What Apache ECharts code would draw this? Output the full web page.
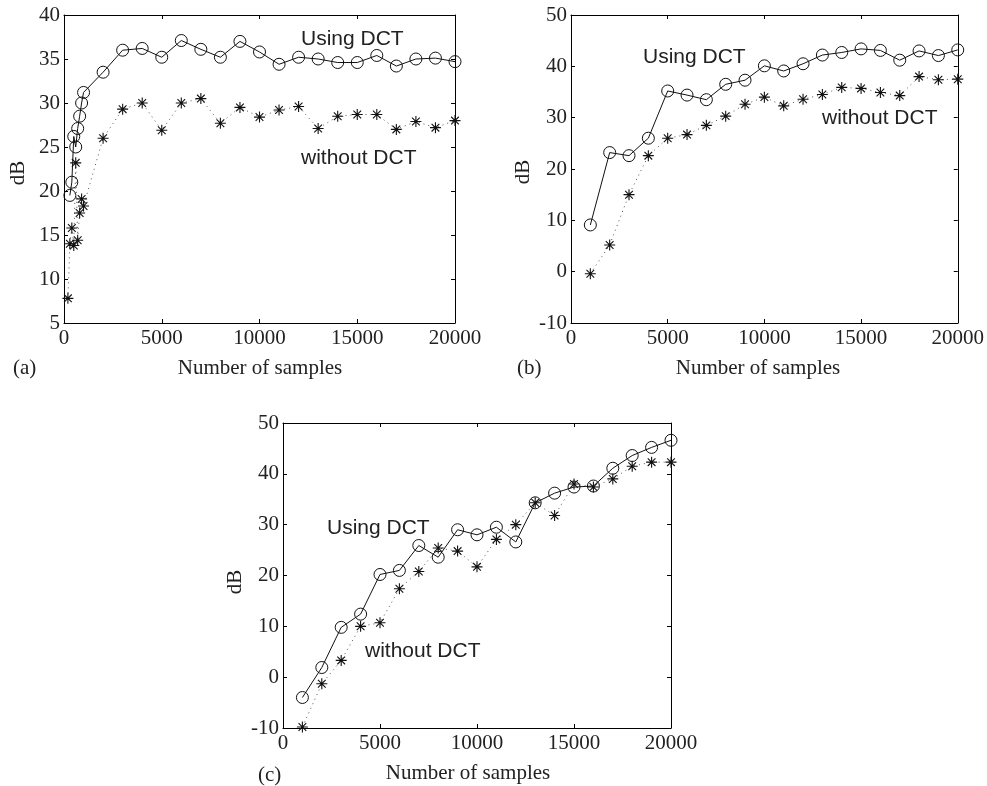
<!DOCTYPE html>
<html>
<head>
<meta charset="utf-8">
<script src="https://cdn.jsdelivr.net/npm/echarts@6/dist/echarts.min.js"></script>
<style>
html,body{margin:0;padding:0;background:#fff;}
#chart{width:987px;height:786px;}
</style>
</head>
<body>
<div id="chart"></div>
<script>
// ---- Data ----
const xTicks = [0, 5000, 10000, 15000, 20000];

// Panel (a)
const xA_dct = [300,400,500,600,700,800,900,1000,2000,3000,4000,5000,6000,7000,8000,9000,10000,11000,12000,13000,14000,15000,16000,17000,18000,19000,20000];
const yA_dct = [19.5,21.0,26.2,25.0,27.1,28.5,30.0,31.2,33.5,36.0,36.2,35.2,37.1,36.1,35.2,37.0,35.8,34.4,35.2,35.0,34.6,34.6,35.4,34.2,35.0,35.1,34.7];
const xA_raw = [200,300,400,500,600,700,800,900,1000,2000,3000,4000,5000,6000,7000,8000,9000,10000,11000,12000,13000,14000,15000,16000,17000,18000,19000,20000];
const yA_raw = [7.8,14.0,15.8,13.8,23.2,14.4,17.5,19.1,18.3,26.0,29.3,30.0,26.9,30.0,30.5,27.7,29.5,28.4,29.2,29.6,27.1,28.5,28.7,28.7,27.0,27.9,27.2,28.0];

// Panels (b) and (c)
const xBC = [1000,2000,3000,4000,5000,6000,7000,8000,9000,10000,11000,12000,13000,14000,15000,16000,17000,18000,19000,20000];
const yB_dct = [9.1,23.2,22.6,26.0,35.2,34.4,33.5,36.5,37.3,40.1,39.1,40.5,42.2,42.7,43.4,43.1,41.2,43.0,42.1,43.2];
const yB_raw = [-0.4,5.2,15.0,22.6,26.0,26.7,28.5,30.3,32.6,34.0,32.3,33.6,34.5,35.9,35.7,34.9,34.3,38.0,37.4,37.5];
const yC_dct = [-4.0,1.9,9.8,12.4,20.2,21.0,25.9,23.6,29.0,28.0,29.5,26.6,34.3,36.2,37.4,37.6,41.1,43.6,45.2,46.6];
const yC_raw = [-9.8,-1.3,3.3,10.0,10.7,17.4,20.8,25.4,24.8,21.7,27.1,30.0,34.3,31.8,38.0,37.4,39.0,41.5,42.3,42.3];

const pairs = (xs, ys) => xs.map((x, i) => [x, ys[i]]);

// ---- Styles ----
const serif = 'Liberation Serif';
const sans = 'Liberation Sans';
const starPath = 'path://M0,-10L0,10M-10,0L10,0M-7,-7L7,7M-7,7L7,-7';

const grids = [
  {left: 64, top: 15, width: 391, height: 308},
  {left: 571, top: 15, width: 391, height: 308},
  {left: 283, top: 423, width: 388, height: 305}
];
const yRanges = [
  {min: 5, max: 40, interval: 5},
  {min: -10, max: 50, interval: 10},
  {min: -10, max: 50, interval: 10}
];

const xAxes = [], yAxes = [];
grids.forEach((g, i) => {
  const common = {
    type: 'value', gridIndex: i, min: 0, max: 20000, interval: 5000,
    splitLine: {show: false},
    axisLine: {show: true, onZero: false, lineStyle: {color: '#000', width: 1}},
    axisTick: {show: true, inside: true, length: 4, lineStyle: {color: '#000'}}
  };
  xAxes.push(Object.assign({}, common, {
    position: 'bottom',
    axisLabel: {show: true, color: '#222', fontFamily: serif, fontSize: 21, margin: 5,
      formatter: v => xTicks.includes(v) ? String(v) : ''}
  }));
  xAxes.push(Object.assign({}, common, {position: 'top', axisLabel: {show: false}}));
  const yc = {
    type: 'value', gridIndex: i, min: yRanges[i].min, max: yRanges[i].max, interval: yRanges[i].interval,
    splitLine: {show: false},
    axisLine: {show: true, onZero: false, lineStyle: {color: '#000', width: 1}},
    axisTick: {show: true, inside: true, length: 4, lineStyle: {color: '#000'}}
  };
  yAxes.push(Object.assign({}, yc, {
    position: 'left',
    axisLabel: {show: true, color: '#222', fontFamily: serif, fontSize: 21, margin: 4}
  }));
  yAxes.push(Object.assign({}, yc, {position: 'right', axisLabel: {show: false}}));
});

function dctSeries(idx, data) {
  return {
    type: 'line', xAxisIndex: idx * 2, yAxisIndex: idx * 2, data: data,
    symbol: 'circle', symbolSize: 12,
    itemStyle: {color: 'transparent', borderColor: '#111', borderWidth: 1},
    lineStyle: {color: '#111', width: 1, type: 'solid'},
    z: 3
  };
}
function rawSeries(idx, data) {
  return {
    type: 'line', xAxisIndex: idx * 2, yAxisIndex: idx * 2, data: data,
    symbol: starPath, symbolSize: 11,
    itemStyle: {color: 'none', borderColor: '#111', borderWidth: 1.1},
    lineStyle: {color: '#555', width: 1, type: [1, 4]},
    z: 4
  };
}

function txt(x, y, text, font, size, opts) {
  return Object.assign({
    type: 'text', x: x, y: y,
    style: Object.assign({text: text, fontFamily: font, fontSize: size, fill: '#222',
      textVerticalAlign: 'middle', verticalAlign: 'middle'}, (opts && opts.style) || {})
  }, opts && opts.rotation !== undefined ? {rotation: opts.rotation} : {});
}

const graphics = [
  // Panel (a)
  txt(301, 39, 'Using DCT', sans, 21),
  txt(301, 158, 'without DCT', sans, 21),
  txt(260, 368, 'Number of samples', serif, 21, {style: {align: 'center', textAlign: 'center'}}),
  txt(13, 368, '(a)', serif, 21),
  txt(18, 173, 'dB', serif, 21, {rotation: Math.PI / 2, style: {align: 'center', textAlign: 'center'}}),
  // Panel (b)
  txt(643, 57, 'Using DCT', sans, 21),
  txt(822, 118, 'without DCT', sans, 21),
  txt(758, 368, 'Number of samples', serif, 21, {style: {align: 'center', textAlign: 'center'}}),
  txt(517, 368, '(b)', serif, 21),
  txt(523, 172, 'dB', serif, 21, {rotation: Math.PI / 2, style: {align: 'center', textAlign: 'center'}}),
  // Panel (c)
  txt(327, 528, 'Using DCT', sans, 21),
  txt(365, 651, 'without DCT', sans, 21),
  txt(468, 773, 'Number of samples', serif, 21, {style: {align: 'center', textAlign: 'center'}}),
  txt(258, 775, '(c)', serif, 21),
  txt(235, 582, 'dB', serif, 21, {rotation: Math.PI / 2, style: {align: 'center', textAlign: 'center'}})
];

const chart = echarts.init(document.getElementById('chart'), null, {renderer: 'canvas'});
chart.setOption({
  backgroundColor: '#fff',
  animation: false,
  grid: grids,
  xAxis: xAxes,
  yAxis: yAxes,
  series: [
    dctSeries(0, pairs(xA_dct, yA_dct)),
    rawSeries(0, pairs(xA_raw, yA_raw)),
    dctSeries(1, pairs(xBC, yB_dct)),
    rawSeries(1, pairs(xBC, yB_raw)),
    dctSeries(2, pairs(xBC, yC_dct)),
    rawSeries(2, pairs(xBC, yC_raw))
  ],
  graphic: graphics
});
</script>
</body>
</html>
